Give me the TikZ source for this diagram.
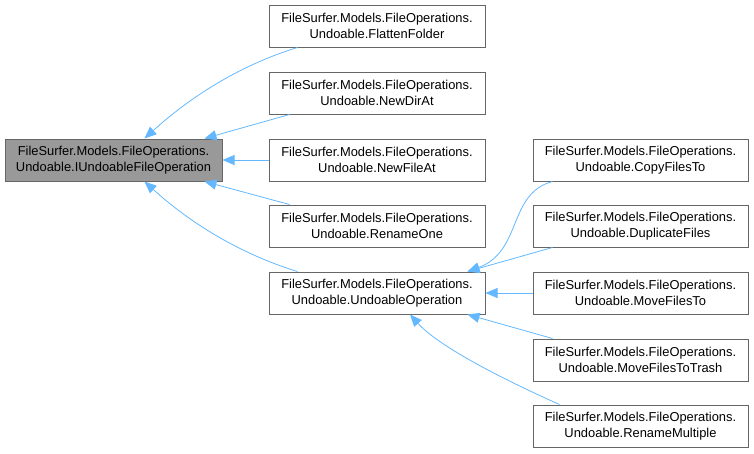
\documentclass[tikz,border=0pt]{standalone}
\usepackage{fontspec}
\setmainfont{Liberation Sans}
\usetikzlibrary{arrows.meta,calc}
\definecolor{edgeblue}{HTML}{63B8FF}
\definecolor{boxgray}{HTML}{666666}
\definecolor{rootfill}{HTML}{999999}
\begin{document}
\begin{tikzpicture}[x=1pt,y=-1pt,
  cls/.style={draw=boxgray,line width=1pt,fill=white,rectangle,minimum height=42pt,inner sep=0pt,align=center,font=\fontsize{12.9}{16.5}\selectfont},
  midbox/.style={cls,minimum width=216pt},
  rightbox/.style={cls,minimum width=215pt},
  rootbox/.style={cls,minimum width=217pt,fill=rootfill},
  inh/.style={draw=edgeblue,line width=0.8pt,-{Triangle[length=12pt,width=10pt]}}]
\useasboundingbox (0,0) rectangle (754,453);
\node[rootbox] (root) at (113.5,160) {FileSurfer.Models.FileOperations.\\Undoable.IUndoableFileOperation};
\node[midbox] (ff) at (377,26) {FileSurfer.Models.FileOperations.\\Undoable.FlattenFolder};
\node[midbox] (nd) at (377,93) {FileSurfer.Models.FileOperations.\\Undoable.NewDirAt};
\node[midbox] (nf) at (377,160) {FileSurfer.Models.FileOperations.\\Undoable.NewFileAt};
\node[midbox] (ro) at (377,226) {FileSurfer.Models.FileOperations.\\Undoable.RenameOne};
\node[midbox] (uo) at (377,293) {FileSurfer.Models.FileOperations.\\Undoable.UndoableOperation};
\node[rightbox] (cf) at (640.5,160) {FileSurfer.Models.FileOperations.\\Undoable.CopyFilesTo};
\node[rightbox] (df) at (640.5,226) {FileSurfer.Models.FileOperations.\\Undoable.DuplicateFiles};
\node[rightbox] (mf) at (640.5,293) {FileSurfer.Models.FileOperations.\\Undoable.MoveFilesTo};
\node[rightbox] (mt) at (640.5,360) {FileSurfer.Models.FileOperations.\\Undoable.MoveFilesToTrash};
\node[rightbox] (rm) at (640.5,426) {FileSurfer.Models.FileOperations.\\Undoable.RenameMultiple};
% edges to root
\draw[inh] ($(ff.south west)+(29,0)$) .. controls ($(ff.south west)+(-30,18)$) and ($(root.north)+(75,-40)$) .. ($(root.north)+(31,0)$);
\draw[inh] ($(nd.south west)+(21,0)$) -- ($(root.north)+(91,0)$);
\draw[inh] (nf.west) -- (root.east);
\draw[inh] ($(ro.north west)+(21,0)$) -- ($(root.south)+(91,0)$);
\draw[inh] ($(uo.north west)+(29,0)$) .. controls ($(uo.north west)+(-30,-18)$) and ($(root.south)+(75,40)$) .. ($(root.south)+(31,0)$);
% edges to UndoableOperation
\draw[inh] ($(cf.south west)+(20,0)$) .. controls ($(cf.south west)+(-25,12)$) and ($(cf.south west)+(-10,70)$) .. ($(uo.north east)+(-18,0)$);
\draw[inh] ($(df.south west)+(20,0)$) -- ($(uo.north east)+(-18,0)$);
\draw[inh] (mf.west) -- (uo.east);
\draw[inh] ($(mt.north west)+(20,0)$) -- ($(uo.south east)+(-18,0)$);
\draw[inh] ($(rm.north west)+(27,0)$) .. controls ($(rm.north west)+(-40,-30)$) and ($(uo.south)+(60,30)$) .. ($(uo.south)+(33,0)$);
\end{tikzpicture}
\end{document}
